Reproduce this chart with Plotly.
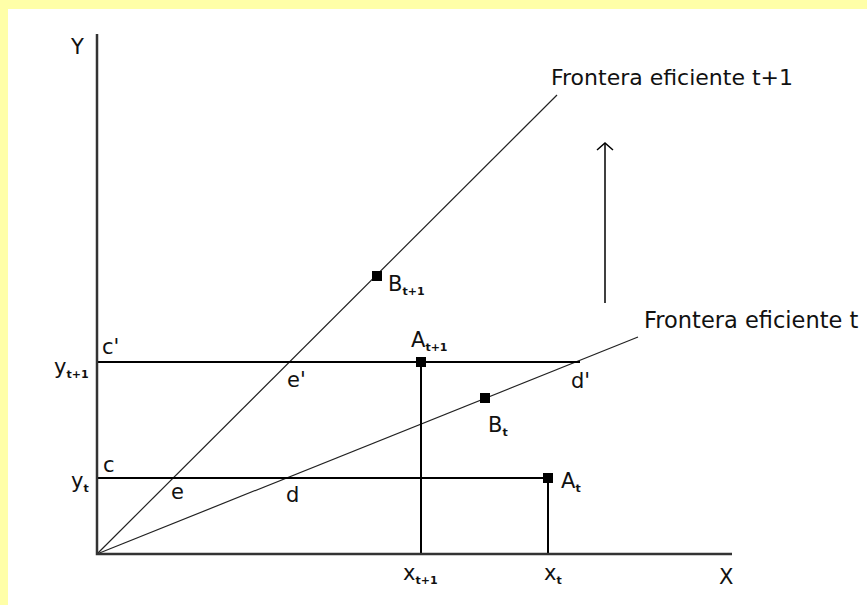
import plotly.graph_objects as go

# coordinates in chart units (origin at the axes corner)
axis_x = [0, 0, 63.5]
axis_y = [52.0, 0, 0]

y_t, y_t1 = 7.6, 19.2
x_t1, x_t = 32.4, 45.1

frontier_t_x = [0, 54.1]
frontier_t_y = [0, 21.7]
frontier_t1_x = [0, 46.0]
frontier_t1_y = [0, 45.9]

hline_t_x = [0, x_t]
hline_t_y = [y_t, y_t]
hline_t1_x = [0, 48.3]
hline_t1_y = [y_t1, y_t1]
vline_t_x = [x_t, x_t]
vline_t_y = [0, y_t]
vline_t1_x = [x_t1, x_t1]
vline_t1_y = [0, y_t1]

point_names = ['A_t', 'A_t+1', 'B_t', 'B_t+1']
point_x = [45.1, 32.4, 38.8, 28.0]
point_y = [7.6, 19.2, 15.6, 27.8]

arrow_x = 50.8
arrow_y = [25.1, 41.1]

sub = lambda s: "<sub><span style='font-size:11px'><b>%s</b></span></sub>" % s

labels = [
    ('Y', -2.0, 50.7, 'center', 21),
    ('X', 62.9, -2.3, 'center', 21),
    ('y' + sub('t'), -0.6, 7.2, 'right', 21),
    ('y' + sub('t+1'), -0.6, 18.6, 'right', 21),
    ('c', 1.2, 8.9, 'center', 21),
    ("c'", 1.3, 20.7, 'center', 21),
    ('e', 8.0, 6.2, 'center', 21),
    ("e'", 19.9, 17.4, 'center', 21),
    ('d', 19.5, 5.9, 'center', 21),
    ("d'", 48.3, 17.3, 'center', 21),
    ('A' + sub('t'), 46.2, 7.2, 'left', 21),
    ('A' + sub('t+1'), 31.2, 21.3, 'left', 21),
    ('B' + sub('t'), 38.9, 12.8, 'left', 21),
    ('B' + sub('t+1'), 28.9, 26.9, 'left', 21),
    ('x' + sub('t+1'), 32.3, -2.0, 'center', 21),
    ('x' + sub('t'), 45.6, -2.0, 'center', 21),
    ('Frontera eficiente t+1', 45.2, 47.7, 'left', 22),
    ('Frontera eficiente t', 54.5, 23.4, 'left', 22.5),
]

fig = go.Figure()

def line(xs, ys, width, color='#000000'):
    fig.add_trace(go.Scatter(x=xs, y=ys, mode='lines',
                             line=dict(color=color, width=width),
                             hoverinfo='skip', showlegend=False))

line(frontier_t_x, frontier_t_y, 1.2, '#222222')
line(frontier_t1_x, frontier_t1_y, 1.2, '#222222')
line(hline_t_x, hline_t_y, 2)
line(hline_t1_x, hline_t1_y, 2)
line(vline_t_x, vline_t_y, 2)
line(vline_t1_x, vline_t1_y, 2)
line(axis_x, axis_y, 2.5, '#333333')

# upward arrow: shaft plus open head
line([arrow_x, arrow_x], arrow_y, 1.5)
line([arrow_x - 0.8, arrow_x, arrow_x + 0.8],
     [arrow_y[1] - 0.7, arrow_y[1], arrow_y[1] - 0.7], 1.5)

fig.add_trace(go.Scatter(x=point_x, y=point_y, mode='markers', text=point_names,
                         marker=dict(symbol='square', size=10, color='#000000'),
                         hoverinfo='text', showlegend=False))

for txt, lx, ly, anchor, size in labels:
    fig.add_annotation(x=lx, y=ly, text=txt, showarrow=False, xanchor=anchor,
                       yanchor='middle', font=dict(size=size, color='#111111'))

# yellow page strips along the top and left edges
yellow = '#FFFFA8'
fig.add_shape(type='rect', xref='paper', yref='paper', x0=0, x1=8 / 867,
              y0=0, y1=1, fillcolor=yellow, line_width=0, layer='below')
fig.add_shape(type='rect', xref='paper', yref='paper', x0=0, x1=1,
              y0=1 - 9 / 605, y1=1, fillcolor=yellow, line_width=0, layer='below')

fig.update_xaxes(range=[-9.7, 77.0], visible=False)
fig.update_yaxes(range=[-5.1, 55.4], visible=False)
fig.update_layout(width=867, height=605,
                  margin=dict(l=0, t=0, r=0, b=0),
                  paper_bgcolor='#FFFFFF', plot_bgcolor='#FFFFFF',
                  font=dict(family='DejaVu Sans, sans-serif'))

fig.write_html('out.html', config={'displayModeBar': False},
               post_script="document.body.style.margin='0';"
                           "document.body.style.overflow='hidden';")
